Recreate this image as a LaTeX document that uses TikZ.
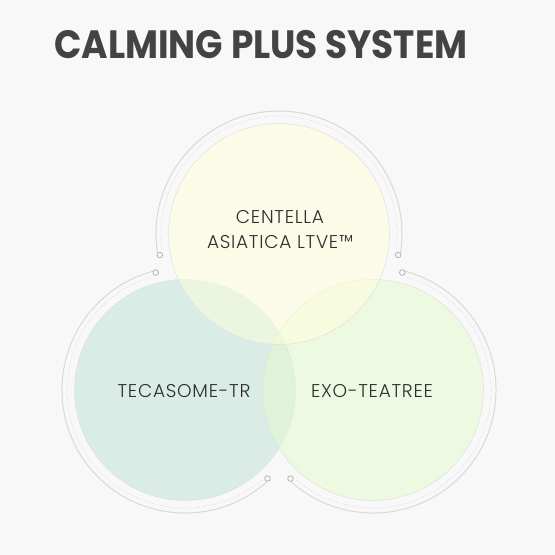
\documentclass[tikz,border=0pt]{standalone}
\usepackage{fontspec}
\setmainfont{Poppins}
\newfontfamily\titlefont{Poppins}[UprightFont=* Bold]
\newfontfamily\labelfont{Poppins Light}[LetterSpace=4]
\definecolor{bg}{HTML}{F8F8F8}
\definecolor{ink}{HTML}{2E2E2E}
\definecolor{ringgray}{HTML}{D9D9D9}
\definecolor{centellafill}{HTML}{FFFFDA}
\definecolor{tecafill}{HTML}{BCE2D6}
\definecolor{exofill}{HTML}{E4FACC}
\begin{document}
\begin{tikzpicture}[
    x=1pt, y=1pt,
    blob/.style={circle, minimum size=221pt, inner sep=0pt, draw=black!12, line width=0.5pt, fill opacity=0.5},
    ring/.style={draw=ringgray, line width=1pt},
    ringdots/.style={draw=ringgray, line width=0.8pt, dotted},
    tip/.style={draw=ringgray!80!black, line width=0.7pt, fill=bg},
    label/.style={font=\labelfont\fontsize{18.5}{25}\selectfont, text=ink, align=center}
]
    \fill[bg] (0,0) rectangle (555,555);
    \useasboundingbox (0,0) rectangle (555,555);

    \node[font=\titlefont\fontsize{39.5}{44}\selectfont, text=ink!90!white, xscale=0.91] (title) at (261,510) {CALMING PLUS SYSTEM};

    \node[blob, fill=tecafill] (teca) at (185,165) {};
    \node[blob, fill=exofill] (exo) at (373,165) {};
    \node[blob, fill=centellafill] (centella) at (279,321) {};

    % outer rings
    \draw[ring] ([shift={(189:123pt)}]centella.center) arc[start angle=189, end angle=-9, radius=123pt];
    \draw[ringdots] ([shift={(187:118pt)}]centella.center) arc[start angle=187, end angle=-7, radius=118pt];
    \draw[tip] ([shift={(190:121pt)}]centella.center) circle[radius=2.8pt];
    \draw[tip] ([shift={(-10:121pt)}]centella.center) circle[radius=2.8pt];

    \draw[ring] ([shift={(105:123pt)}]teca.center) arc[start angle=105, end angle=312, radius=123pt];
    \draw[ringdots] ([shift={(107:118pt)}]teca.center) arc[start angle=107, end angle=310, radius=118pt];
    \draw[tip] ([shift={(104:121pt)}]teca.center) circle[radius=2.8pt];
    \draw[tip] ([shift={(313:121pt)}]teca.center) circle[radius=2.8pt];

    \draw[ring] ([shift={(75:123pt)}]exo.center) arc[start angle=75, end angle=-132, radius=123pt];
    \draw[ringdots] ([shift={(73:118pt)}]exo.center) arc[start angle=73, end angle=-130, radius=118pt];
    \draw[tip] ([shift={(76:121pt)}]exo.center) circle[radius=2.8pt];
    \draw[tip] ([shift={(-133:121pt)}]exo.center) circle[radius=2.8pt];

    \node[label] (centellatext) at (280,325) {CENTELLA\\ASIATICA LTVE™};
    \node[label] (tecatext) at (184,164) {TECASOME-TR};
    \node[label] (exotext) at (372,164) {EXO-TEATREE};
\end{tikzpicture}
\end{document}
